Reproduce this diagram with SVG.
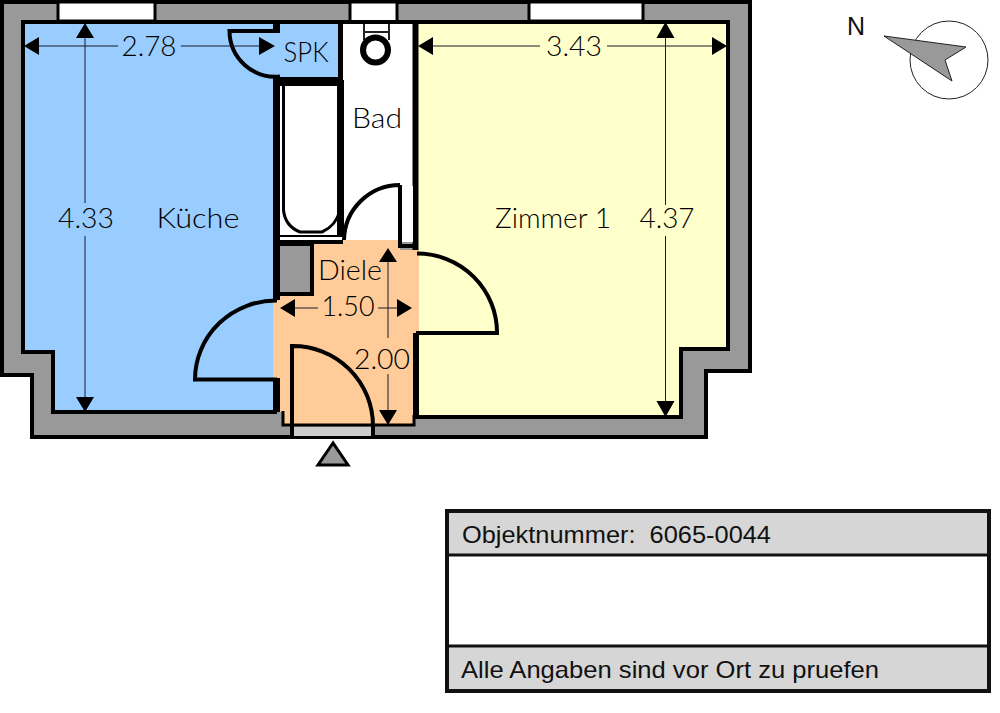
<svg xmlns="http://www.w3.org/2000/svg" width="1000" height="713" viewBox="0 0 1000 713">
<style>
.w{stroke:#000;stroke-width:4;stroke-linejoin:miter}
.d{fill:none;stroke:#000;stroke-width:4}
.dim{fill:none;stroke:#1a1a2a;stroke-width:1}
.a{fill:#000}
.t{font-family:"Lato","Liberation Sans",sans-serif;font-size:27px;font-weight:300;fill:#000;text-anchor:middle}
.l{font-family:"Liberation Sans",Arial,sans-serif;font-size:24px;fill:#111}
</style>
<rect width="1000" height="713" fill="#fff"/>
<g id="walls">
<path class="w" fill="#999" d="M2 2H750V371H706V437H32V375H2Z"/>
<rect x="58" y="2" width="97" height="19" fill="#fff" stroke="#000" stroke-width="3"/>
<rect x="350" y="2" width="47" height="20" fill="#fff" stroke="#000" stroke-width="3"/>
<rect x="529" y="2" width="114" height="19" fill="#fff" stroke="#000" stroke-width="3"/>
</g>
<g id="kueche">
<path fill="#9cf" d="M23 22H276V412H53V352H23Z"/>
<path class="d" d="M277 22H23V352H53V412H277"/>
</g>
<g id="zimmer">
<path class="w" fill="#ffc" d="M416 22H728V349H681V417H416Z"/>
</g>
<g id="bad">
<rect x="340" y="24" width="74" height="218" fill="#fff"/>
<path d="M340.500 20V214" fill="none" stroke="#000" stroke-width="5"/>
<path d="M415.500 20V250" fill="none" stroke="#000" stroke-width="6"/>
<path d="M276 22H418" fill="none" stroke="#000" stroke-width="4"/>
<path d="M364 24V40M389 24V40M364 32H389" fill="none" stroke="#222" stroke-width="2"/>
<circle cx="375.500" cy="50" r="12.500" fill="#fff" stroke="#000" stroke-width="6"/>
</g>
<g id="wanne">
<rect x="277" y="79" width="66" height="163" fill="#fff"/>
<path d="M283.500 86V210Q285 226 300 232H322Q336 226 340 210" fill="none" stroke="#000" stroke-width="3"/>
<path d="M273 81.500H343" stroke="#000" stroke-width="9"/>
<path d="M276.500 77V242M340.500 80V236" fill="none" stroke="#000" stroke-width="7"/>
<path d="M277 236H343" stroke="#000" stroke-width="2"/>
<path d="M276 242H343" stroke="#000" stroke-width="4"/>
</g>
<g id="spk">
<path fill="#9cf" d="M274 24H338V77H274Z"/>
<path d="M276.500 22V32" stroke="#000" stroke-width="7"/>
<path class="d" d="M280 31H229.500A46 46 0 0 0 280 76.500"/>
</g>
<g id="diele">
<path fill="#fc9" d="M343 240H400V250H419V333H413V425H284V412H280V378H273V299H280V294H312V244H343Z"/>
<path fill="none" stroke="#000" stroke-width="3" d="M283 411V425H414V415"/>
<path fill="none" stroke="#000" stroke-width="6" d="M416 333V418"/>
<path fill="none" stroke="#000" stroke-width="7" d="M276.500 378V412"/>
<rect x="277" y="244" width="35" height="50" fill="#999" stroke="#000" stroke-width="4"/>
<path fill="none" stroke="#000" stroke-width="7" d="M276.500 240V300"/>
<rect x="401" y="186" width="12" height="56" fill="#fff"/>
<path fill="none" stroke="#000" stroke-width="4" d="M400 185A56 56 0 0 0 344 240M400 185V246H416"/>
</g>
<g id="doors">
<path class="d" d="M277 300.500A81 79 0 0 0 195 379.500H277"/>
<path class="d" d="M417 253.500A80 79 0 0 1 497 333H416"/>
<rect x="293" y="427" width="79" height="9" fill="#ccc"/>
<path class="d" d="M292 437V346A80 80 0 0 1 373 426V437"/>
</g>
<g id="eingang">
<path d="M333 443L318 465H348Z" fill="#999" stroke="#000" stroke-width="3"/>
</g>
<g id="connectors">
<path class="dim" d="M36 46H118M181 46H262M85 36V203M85 236V400M430 46H540M607 46H714M665.500 36V205M665.500 236V404M293 308H318M378 308H399M388 260V338M388 374V412"/>
<path class="a" d="M24 46L39 37V55ZM275 46L259 37V55ZM85 23L76 38H94ZM85 412L76 397H94ZM418 46L433 37V55ZM727 46L712 37V55ZM665.500 22L656.500 38H674.500ZM665.500 417L656.500 401H674.500ZM280 308L295 299V317ZM412 308L397 299V317ZM388 248L379 262H397ZM388 425L379 410H397Z"/>
</g>
<g id="labels">
<text class="t" x="149" y="56" textLength="55" lengthAdjust="spacingAndGlyphs">2.78</text>
<text class="t" x="306" y="62" font-size="25" textLength="45" lengthAdjust="spacingAndGlyphs">SPK</text>
<text class="t" x="377" y="128" textLength="50" lengthAdjust="spacingAndGlyphs">Bad</text>
<text class="t" x="86" y="228" textLength="56" lengthAdjust="spacingAndGlyphs">4.33</text>
<text class="t" x="198" y="228" textLength="83" lengthAdjust="spacingAndGlyphs">Küche</text>
<text class="t" x="553" y="228" textLength="116" lengthAdjust="spacingAndGlyphs">Zimmer 1</text>
<text class="t" x="667" y="228" textLength="55" lengthAdjust="spacingAndGlyphs">4.37</text>
<text class="t" x="574" y="56" textLength="56" lengthAdjust="spacingAndGlyphs">3.43</text>
<text class="t" x="350" y="280" textLength="64" lengthAdjust="spacingAndGlyphs">Diele</text>
<text class="t" x="348" y="316" textLength="53" lengthAdjust="spacingAndGlyphs">1.50</text>
<text class="t" x="382" y="369" textLength="56" lengthAdjust="spacingAndGlyphs">2.00</text>
</g>
<g id="nordpfeil">
<text x="847" y="35" font-family="Liberation Sans, Arial, sans-serif" font-size="25" fill="#111">N</text>
<circle cx="949" cy="60" r="39" fill="#fff" stroke="#222" stroke-width="1"/>
<path d="M884 36L966 47L945 60L952 81Z" fill="#999" stroke="#222" stroke-width="1"/>
</g>
<g id="legende">
<rect x="447" y="511" width="542" height="180" fill="#fff" stroke="#111" stroke-width="4"/>
<rect x="449" y="513" width="538" height="42" fill="#d6d6d6"/>
<rect x="449" y="646" width="538" height="43" fill="#d6d6d6"/>
<path d="M445 555H991M445 646H991" stroke="#111" stroke-width="3"/>
<text class="l" x="462" y="543" xml:space="preserve" textLength="309" lengthAdjust="spacingAndGlyphs">Objektnummer:  6065-0044</text>
<text class="l" x="461" y="678" textLength="418" lengthAdjust="spacingAndGlyphs">Alle Angaben sind vor Ort zu pruefen</text>
</g>
</svg>
